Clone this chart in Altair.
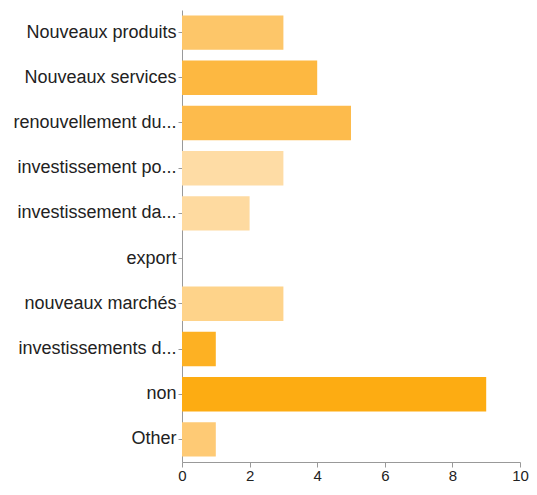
import altair as alt
import pandas as pd

categories = [
    "Nouveaux produits",
    "Nouveaux services",
    "renouvellement du...",
    "investissement po...",
    "investissement da...",
    "export",
    "nouveaux marchés",
    "investissements d...",
    "non",
    "Other",
]
values = [3, 4, 5, 3, 2, 0, 3, 1, 9, 1]
colors = [
    "#FDC669",
    "#FDB841",
    "#FDBB4C",
    "#FEDCA5",
    "#FEDAA0",
    "#FED9A0",
    "#FED38A",
    "#FDB123",
    "#FDAC12",
    "#FECA75",
]

df = pd.DataFrame({"cat": categories, "val": values, "col": colors})

chart = (
    alt.Chart(df)
    .mark_bar()
    .encode(
        y=alt.Y(
            "cat:N",
            sort=categories,
            title=None,
            scale=alt.Scale(paddingInner=0.24, paddingOuter=0.12),
            axis=alt.Axis(
                labelFont="Liberation Sans",
                labelFontSize=18,
                labelColor="#222222",
                labelPadding=2,
                tickSize=4,
                tickColor="#999999",
                domainColor="#999999",
                labelLimit=300,
            ),
        ),
        x=alt.X(
            "val:Q",
            title=None,
            scale=alt.Scale(domain=[0, 10]),
            axis=alt.Axis(
                values=[0, 2, 4, 6, 8, 10],
                grid=False,
                labelFont="Liberation Sans",
                labelFontSize=15,
                labelColor="#222222",
                labelPadding=1,
                tickSize=5,
                tickColor="#999999",
                domainColor="#999999",
                labelFlush=False,
            ),
        ),
        color=alt.Color("col:N", scale=None, legend=None),
    )
    .properties(
        width=338,
        height=452,
        autosize=alt.AutoSizeParams(type="none"),
        padding={"left": 174, "top": 2, "right": 9, "bottom": 22},
    )
    .configure_view(stroke=None)
)

chart.save("out.html", embed_options={"renderer": "svg", "actions": False})
